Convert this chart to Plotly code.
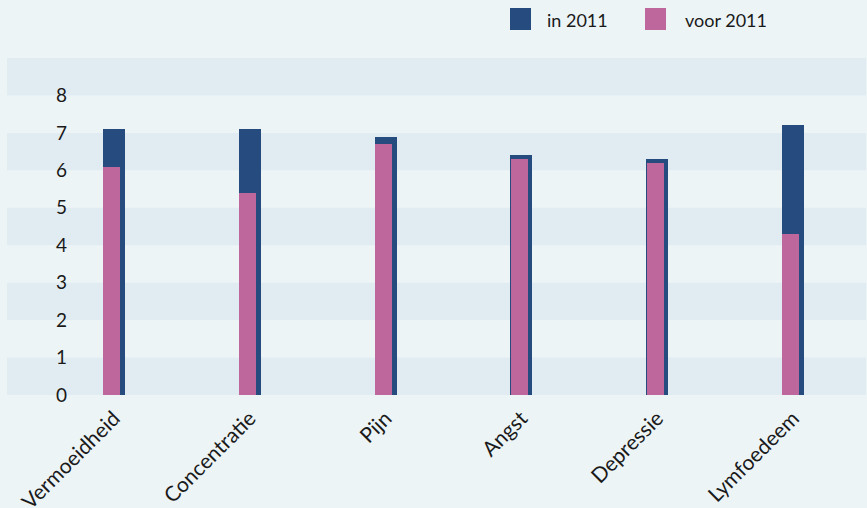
import plotly.graph_objects as go

categories = ["Vermoeidheid", "Concentratie", "Pijn", "Angst", "Depressie", "Lymfoedeem"]
in_2011 = [7.1, 7.1, 6.9, 6.4, 6.3, 7.2]
voor_2011 = [6.1, 5.4, 6.7, 6.3, 6.2, 4.3]
series_names = ["in 2011", "voor 2011"]
y_ticks = [0, 1, 2, 3, 4, 5, 6, 7, 8]

BLUE = "#264b7e"
PINK = "#bd679d"
BG = "#ecf4f6"
BAND = "#e1ecf2"
FONT = "Lato"
TXT = "#1a1a1a"

W, H = 867, 508
ML, MR, MT, MB = 72, 1, 58, 113
PW, PH = W - ML - MR, H - MT - MB

def px_x(px):
    return (px - ML) / PW

def px_y(py):
    return (H - MB - py) / PH

xs = list(range(len(categories)))

fig = go.Figure()
fig.add_trace(go.Bar(x=xs, y=in_2011, name=series_names[0], marker_color=BLUE,
                     marker_line_width=0, width=0.162, offset=-0.081, showlegend=False))
fig.add_trace(go.Bar(x=xs, y=voor_2011, name=series_names[1], marker_color=PINK,
                     marker_line_width=0, width=0.125, offset=-0.078, showlegend=False))

shapes = []
for t in y_ticks:
    if t % 2 == 0:
        shapes.append(dict(type="rect", xref="paper", yref="y", x0=px_x(7), x1=1.0,
                           y0=t, y1=t + 1, fillcolor=BAND, line_width=0, layer="below"))

# legend (manual, large squares)
annotations = []
for name, col, sx, tx in [(series_names[0], BLUE, 510, 545), (series_names[1], PINK, 645, 683)]:
    shapes.append(dict(type="rect", xref="paper", yref="paper", x0=px_x(sx), x1=px_x(sx + 21),
                       y0=px_y(30), y1=px_y(8), fillcolor=col, line_width=0))
    annotations.append(dict(xref="paper", yref="paper", x=px_x(tx), y=px_y(20), text=name,
                            showarrow=False, xanchor="left", yanchor="middle",
                            font=dict(family=FONT, size=18, color=TXT)))

fig.update_layout(
    width=W, height=H,
    margin=dict(l=ML, r=MR, t=MT, b=MB, autoexpand=False),
    paper_bgcolor=BG, plot_bgcolor="rgba(0,0,0,0)",
    barmode="overlay",
    bargap=0,
    shapes=shapes,
    annotations=annotations,
    font=dict(family=FONT, size=18, color=TXT),
    xaxis=dict(range=[-0.309, 5.538], tickvals=xs, ticktext=categories, tickangle=-45,
               showgrid=False, zeroline=False, showline=False, ticks="",
               ticklabelstandoff=6, automargin=False,
               tickfont=dict(family=FONT, size=21, color=TXT)),
    yaxis=dict(range=[0, 9], tickvals=y_ticks, showgrid=False, zeroline=False,
               showline=False, ticks="", ticklabelstandoff=4, automargin=False,
               tickfont=dict(family=FONT, size=19, color=TXT)),
    showlegend=False,
)

fig.write_html("out.html")
